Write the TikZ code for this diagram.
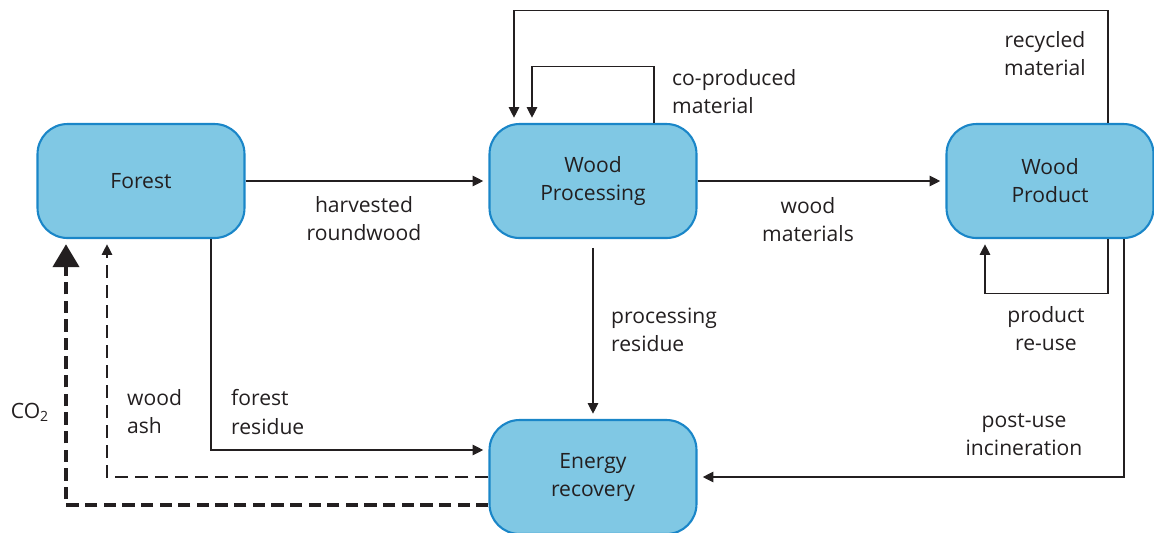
\documentclass[tikz,border=0pt]{standalone}
\usepackage{fontspec}
\setmainfont{Open Sans}
\usetikzlibrary{arrows.meta,calc}
\definecolor{boxfill}{RGB}{128,200,228}
\definecolor{boxline}{RGB}{26,134,200}
\definecolor{ink}{RGB}{35,31,32}
\begin{document}
\begin{tikzpicture}[x=0.02cm, y=-0.02cm, font=\fontsize{12}{16}\selectfont,
	stage/.style={draw=boxline, line width=1.2pt, fill=boxfill, rounded corners=0.6cm,
		minimum width=4.14cm, minimum height=2.28cm, align=center, text=ink},
	flow/.style={draw=ink, line width=0.6pt, -{Triangle[length=6pt, width=6pt]}, shorten >=3pt},
	lbl/.style={text=ink, align=center}]
	\useasboundingbox (0,0) rectangle (1154,532);
	\node[stage] (forest) at (141,181) {Forest};
	\node[stage] (proc) at (593,181) {Wood\\Processing};
	\node[stage] (product) at (1050,181) {Wood\\Product};
	\node[stage] (energy) at (593,477)
		{\raisebox{-2.8pt}{\begin{tabular}{@{}c@{}}Energy\\recovery\end{tabular}}};
	% main flows
	\draw[flow] (forest.east) -- (proc.west);
	\draw[flow] (proc.east) -- (product.west);
	\draw[flow, shorten <=5pt] (proc.south) -- (energy.north);
	\draw[flow] ($(forest.south)+(70,0)$) |- ($(energy.west)+(0,-27)$);
	\draw[flow] ($(product.south)+(74,0)$) |- (energy.east);
	% loops
	\draw[flow] ($(proc.north)+(61,0)$) -- ++(0,-56) -| ($(proc.north)+(-61,0)$);
	\draw[flow] ($(product.north)+(58,0)$) -- ++(0,-112) -| ($(proc.north)+(-79,0)$);
	\draw[flow] ($(product.south)+(58,0)$) -- ++(0,54) -| ($(product.south)+(-65,0)$);
	% returns to the forest
	\draw[flow, dash pattern=on 7.4pt off 4pt] (energy.west) -| ($(forest.south)+(-34,0)$);
	\draw[draw=ink, line width=1.8pt, dash pattern=on 7pt off 3.6pt,
		-{Triangle[length=13pt, width=15pt]}, shorten >=3pt]
		($(energy.west)+(0,28)$) -| ($(forest.south)+(-75,0)$);
	% labels
	\node[lbl] (harv) at (364,219) {harvested\\roundwood};
	\node[lbl] (mat) at (808,220) {wood\\materials};
	\node[lbl, anchor=west, align=left] (res) at (605,330) {processing\\residue};
	\node[lbl, anchor=west, align=left] (cop) at (666,92) {co-produced\\material};
	\node[lbl] (rec) at (1045,54) {recycled\\material};
	\node[lbl] (reuse) at (1046,329) {product\\re-use};
	\node[lbl] (post) at (1024,435) {post-use\\incineration};
	\node[lbl, anchor=west, align=left] (ash) at (121,412) {wood\\ash};
	\node[lbl, anchor=west, align=left] (fres) at (225,412) {forest\\residue};
	\node[lbl] (co) at (30,412) {CO\textsubscript{2}};
\end{tikzpicture}
\end{document}
